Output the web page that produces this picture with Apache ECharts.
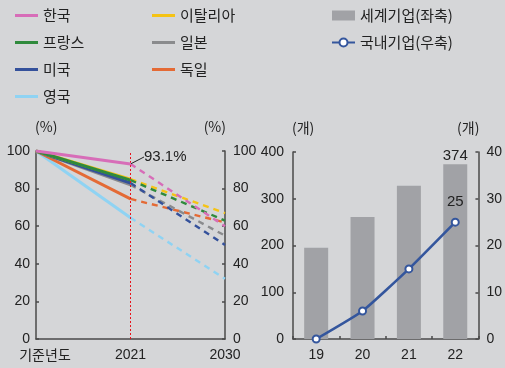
<!DOCTYPE html>
<html><head><meta charset="utf-8">
<script src="https://cdn.jsdelivr.net/npm/echarts@6/dist/echarts.min.js"></script>
<style>html,body{margin:0;padding:0;background:#d5d6d8;}#c{width:505px;height:368px;}</style>
</head><body><div id="c"></div>
<script>
const lineCats = ['기준년도', '2021', '2030'];
const countries = ['한국', '프랑스', '미국', '영국', '이탈리아', '일본', '독일'];
const colors = ['#d76db8', '#2f8a3c', '#34519b', '#8fd3f3', '#f5c314', '#8a8b8d', '#e46a35'];
const baseValues = [100, 100, 100, 100, 100, 100, 100];
const val2021 = [93.1, 84.5, 83, 64.5, 85, 82, 74.5];
const val2030 = [60, 63, 50, 32, 67, 55, 62];

const years = ['19', '20', '21', '22'];
const worldFirms = [195, 261, 328, 374];
const domesticFirms = [0, 6, 15, 25];

const FONT = '"Liberation Sans", Arial, "Noto Sans CJK KR", sans-serif';
const KFONT = '"Noto Sans CJK KR", sans-serif';
const TXT = '#222';
const AX = '#4a4a4a';

const drawOrder = [3, 6, 5, 2, 4, 1, 0];
const series = [];
drawOrder.forEach(function (i) {
  series.push({
    name: countries[i], type: 'line', xAxisIndex: 0, yAxisIndex: 0,
    data: [baseValues[i], val2021[i], null],
    symbol: 'none', lineStyle: { color: colors[i], width: 3 }, itemStyle: { color: colors[i] },
    z: 3
  });
  series.push({
    name: countries[i], type: 'line', xAxisIndex: 0, yAxisIndex: 0,
    data: [null, val2021[i], val2030[i]],
    symbol: 'none', lineStyle: { color: colors[i], width: 2.4, type: [6, 5] }, itemStyle: { color: colors[i] },
    z: 3
  });
});
// annotation + vertical marker on Korea solid line
const korea = series.find(s => s.name === '한국' && s.data[0] !== null);
korea.symbol = 'circle';
korea.symbolSize = 1;
korea.showSymbol = true;
korea.labelLayout = { dx: 11, dy: -7 };
korea.labelLine = { show: true, lineStyle: { color: '#222', width: 1 } };
korea.markLine = {
  silent: true, symbol: 'none', label: { show: false },
  lineStyle: { color: '#e8121b', width: 1, type: [2, 2] },
  data: [{ xAxis: '2021' }]
};
korea.data = korea.data.map(function (v, k) {
  if (k === 1) {
    return {
      value: v,
      label: { show: true, position: 'right', distance: 2, formatter: v + '%', color: TXT, fontSize: 15, fontFamily: FONT }
    };
  }
  return v;
});
korea.z = 5;

series.push({
  name: '세계기업(좌축)', type: 'bar', xAxisIndex: 1, yAxisIndex: 2,
  data: worldFirms.map(function (v, k) {
    return k === worldFirms.length - 1 ? { value: v, label: { show: true, position: 'top', distance: 1, color: TXT, fontSize: 15, fontFamily: FONT } } : v;
  }),
  barWidth: 24, itemStyle: { color: '#a1a2a6' }
});
series.push({
  name: '국내기업(우축)', type: 'line', xAxisIndex: 1, yAxisIndex: 3,
  data: domesticFirms.map(function (v, k) {
    return k === domesticFirms.length - 1 ? { value: v, label: { show: true, position: 'top', distance: 8, color: TXT, fontSize: 15, fontFamily: FONT } } : v;
  }),
  smooth: 0.15, symbol: 'circle', symbolSize: 7,
  lineStyle: { color: '#34569d', width: 2.6 },
  itemStyle: { color: '#fff', borderColor: '#34569d', borderWidth: 2 },
  z: 5
});

function yAxis(grid, pos, max, interval, name, labelMargin) {
  return {
    type: 'value', gridIndex: grid, position: pos, min: 0, max: max, interval: interval,
    name: name, nameLocation: 'end', nameGap: 17,
    nameTextStyle: { color: TXT, fontSize: 14, fontFamily: KFONT, align: pos === 'left' ? 'left' : 'right', padding: pos === 'left' ? [0, 0, 0, -1] : [0, -1, 0, 0] },
    axisLine: { show: true, lineStyle: { color: AX, width: 1.5 } },
    axisTick: { show: true, inside: true, length: 3, lineStyle: { color: AX, width: 1.5 } },
    axisLabel: { color: TXT, fontSize: 14, fontFamily: FONT, margin: labelMargin },
    splitLine: { show: false }
  };
}

const legendText = { color: TXT, fontSize: 15, fontFamily: KFONT, lineHeight: 15 };
const option = {
  backgroundColor: '#d5d6d8',
  animation: false,
  legend: [
    {
      data: ['한국', '프랑스', '미국', '영국'], orient: 'vertical', left: 10, top: 3,
      icon: 'rect', itemWidth: 23, itemHeight: 3, itemGap: 12, textStyle: legendText
    },
    {
      data: ['이탈리아', '일본', '독일'], orient: 'vertical', left: 147, top: 3,
      icon: 'rect', itemWidth: 23, itemHeight: 3, itemGap: 12, textStyle: legendText
    },
    {
      data: [{ name: '세계기업(좌축)', icon: 'rect', itemStyle: { color: '#a1a2a6' } }, { name: '국내기업(우축)' }],
      orient: 'vertical', left: 326, top: 3,
      itemWidth: 23, itemHeight: 10, itemGap: 12, textStyle: legendText
    }
  ],
  grid: [
    { left: 36, right: 280, top: 151, bottom: 29 },
    { left: 293, right: 24, top: 152, bottom: 29 }
  ],
  xAxis: [
    {
      type: 'category', gridIndex: 0, boundaryGap: false,
      data: lineCats.map(function (c, k) { return k === 0 ? { value: c, textStyle: { fontFamily: KFONT, padding: [0, 0, 0, 18] } } : c; }),
      axisLine: { lineStyle: { color: AX, width: 1.5 } },
      axisTick: { show: false },
      axisLabel: { color: TXT, fontSize: 14, fontFamily: FONT, margin: 9 }
    },
    {
      type: 'category', gridIndex: 1, data: years,
      axisLine: { lineStyle: { color: AX, width: 1.5 } },
      axisTick: { show: true, inside: true, length: 3, lineStyle: { color: AX, width: 1.5 } },
      axisLabel: { color: TXT, fontSize: 14, fontFamily: FONT, margin: 9 }
    }
  ],
  yAxis: [
    yAxis(0, 'left', 100, 20, '(%)', 6),
    yAxis(0, 'right', 100, 20, '(%)', 8),
    yAxis(1, 'left', 400, 100, '(개)', 9),
    yAxis(1, 'right', 40, 10, '(개)', 8)
  ],
  series: series
};
const chart = echarts.init(document.getElementById('c'), null, { renderer: 'canvas' });
chart.setOption(option);
</script></body></html>
